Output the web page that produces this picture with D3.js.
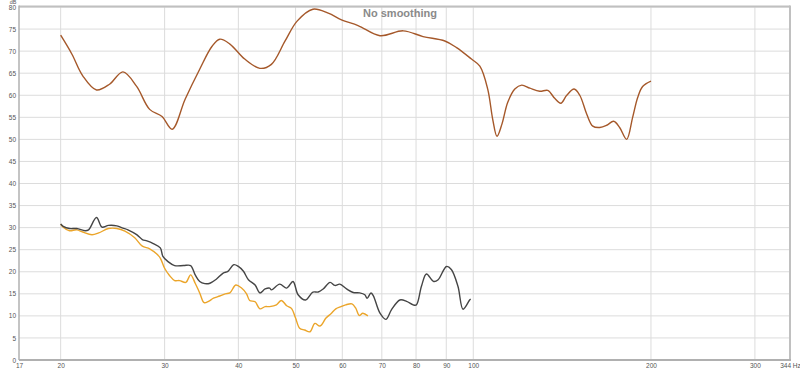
<!DOCTYPE html>
<html>
<head>
<meta charset="utf-8">
<script src="https://cdn.jsdelivr.net/npm/d3@7"></script>
<style>
  body { margin: 0; background: #fff; }
  text { font-family: "Liberation Sans", Arial, sans-serif; }
</style>
</head>
<body>
<div id="chart"></div>
<script>
// 圖表大小
const width = 800;
const height = 371;

// 座標軸刻度
const xTicks = [17, 20, 30, 40, 50, 60, 70, 80, 90, 100, 200, 300, 344];
const xGrid = [20, 30, 40, 50, 60, 70, 80, 90, 100, 200, 300];
const yTicks = [0, 5, 10, 15, 20, 25, 30, 35, 40, 45, 50, 55, 60, 65, 70, 75, 80];

// 棕色曲線 (頻率, dB)
const brownFreq = [20.0, 20.9, 21.8, 23.0, 24.2, 25.5, 26.9, 28.3, 29.7, 30.9, 32.5, 34.4, 36.1, 37.2, 38.7, 41.0, 43.5, 45.5, 48.0, 50.3, 53.5, 56.8, 59.8, 63.8, 69.5, 76.1, 82.2, 89.5, 93.7, 99.3, 102.6, 105.8, 107.9, 109.7, 111.8, 114.4, 117.6, 120.8, 124.7, 129.6, 133.7, 137.4, 140.7, 144.0, 148.2, 151.5, 155.7, 159.4, 163.8, 168.3, 172.9, 177.0, 181.9, 186.2, 189.9, 193.6, 200];
const brownDb = [73.6, 69.3, 64.4, 61.2, 62.5, 65.3, 62.0, 56.8, 55.2, 52.3, 59.1, 65.9, 71.1, 72.7, 71.6, 68.2, 66.1, 67.0, 72.3, 76.8, 79.5, 78.6, 77.1, 75.8, 73.5, 74.6, 73.3, 72.3, 70.8, 68.2, 66.6, 61.4, 54.5, 50.7, 53.4, 58.4, 61.4, 62.3, 61.6, 60.9, 61.1, 59.3, 58.2, 60.0, 61.4, 60.0, 55.7, 53.0, 52.7, 53.2, 54.1, 52.7, 50.0, 55.0, 59.5, 62.0, 63.2];

// 深灰色曲線
const greyFreq = [20.0, 20.2, 20.7, 21.3, 22.0, 22.3, 23.0, 23.5, 24.1, 24.9, 25.5, 26.0, 26.9, 27.5, 28.0, 28.7, 29.5, 29.8, 30.4, 31.2, 32.3, 33.2, 33.8, 34.4, 35.1, 35.8, 36.7, 37.7, 38.4, 39.3, 40.0, 40.8, 41.6, 42.7, 43.5, 44.4, 45.2, 45.5, 47.0, 48.3, 49.5, 50.5, 52.0, 53.5, 54.6, 55.7, 57.2, 58.3, 59.4, 61.0, 62.6, 64.2, 65.5, 66.1, 67.1, 67.7, 69.5, 71.1, 72.7, 75.1, 77.1, 79.1, 80.1, 81.7, 83.3, 85.7, 87.2, 90.1, 91.8, 94.2, 96.1, 98.6, 99.0];
const greyDb = [30.8, 30.3, 29.8, 29.8, 29.3, 29.5, 32.3, 30.1, 30.5, 30.4, 29.9, 29.5, 28.4, 27.3, 27.0, 26.4, 25.4, 23.5, 22.3, 21.4, 21.4, 21.4, 19.3, 17.8, 17.3, 17.4, 18.3, 19.7, 20.1, 21.6, 21.2, 20.1, 18.2, 17.0, 15.2, 16.1, 16.3, 15.9, 17.2, 16.3, 17.8, 14.8, 13.6, 15.4, 15.4, 16.1, 17.6, 16.9, 17.2, 16.1, 15.3, 15.2, 14.8, 14.0, 15.2, 14.6, 10.6, 9.2, 11.4, 13.6, 13.3, 12.5, 12.5, 16.7, 19.5, 17.8, 18.2, 21.2, 20.5, 16.7, 11.5, 13.6, 13.8];

// 橙色曲線
const orangeFreq = [20.0, 20.2, 20.7, 21.3, 21.8, 22.6, 23.2, 24.1, 24.9, 25.7, 26.7, 27.5, 28.3, 29.1, 29.5, 30.0, 30.6, 31.2, 31.8, 32.6, 33.2, 33.8, 34.4, 35.0, 35.6, 36.3, 37.2, 38.0, 38.7, 39.6, 40.5, 41.3, 41.8, 42.7, 43.5, 44.4, 45.2, 46.4, 47.3, 48.3, 49.2, 50.0, 50.8, 51.8, 52.9, 53.9, 55.0, 56.3, 57.4, 58.5, 59.7, 60.8, 62.3, 63.2, 64.1, 65.0, 66.3];
const orangeDb = [30.8, 30.1, 29.3, 29.5, 29.0, 28.4, 28.8, 29.8, 29.8, 29.2, 27.7, 25.8, 25.2, 24.0, 23.1, 20.8, 19.1, 18.0, 18.0, 17.6, 19.3, 17.4, 15.2, 13.0, 13.3, 14.0, 14.5, 15.0, 15.2, 17.0, 16.3, 15.0, 13.5, 13.2, 11.6, 12.1, 12.1, 12.5, 13.5, 12.3, 11.7, 9.5, 7.2, 6.8, 6.4, 8.3, 7.7, 9.5, 10.5, 11.6, 12.1, 12.5, 12.7, 11.8, 10.1, 10.6, 10.0];

// 繪圖區邊界
const plotLeft = 19, plotRight = 790, plotTop = 7, plotBottom = 360;

const svg = d3.select("#chart")
    .append("svg")
    .attr("width", width)
    .attr("height", height);

// 比例尺
const x = d3.scaleLog().domain([17, 344]).range([plotLeft, plotRight]);
const y = d3.scaleLinear().domain([0, 80]).range([plotBottom, plotTop]);

// 格線
svg.append("g")
    .selectAll("line")
    .data(yTicks)
    .join("line")
    .attr("x1", plotLeft).attr("x2", plotRight)
    .attr("y1", d => y(d)).attr("y2", d => y(d))
    .attr("stroke", "#dcdcdc")
    .attr("stroke-width", 1);

svg.append("g")
    .selectAll("line")
    .data(xGrid)
    .join("line")
    .attr("x1", d => x(d)).attr("x2", d => x(d))
    .attr("y1", plotTop).attr("y2", plotBottom)
    .attr("stroke", "#dcdcdc")
    .attr("stroke-width", 1);

// 外框
svg.append("line").attr("x1", plotLeft).attr("x2", plotRight).attr("y1", plotTop - 0.5).attr("y2", plotTop - 0.5)
    .attr("stroke", "#c0c0c0").attr("stroke-width", 2);
svg.append("line").attr("x1", plotRight).attr("x2", plotRight).attr("y1", plotTop - 1.5).attr("y2", plotBottom)
    .attr("stroke", "#c0c0c0").attr("stroke-width", 2);
svg.append("line").attr("x1", plotLeft).attr("x2", plotLeft).attr("y1", plotTop - 1.5).attr("y2", plotBottom)
    .attr("stroke", "#b0b0b0").attr("stroke-width", 1.5);
svg.append("line").attr("x1", plotLeft).attr("x2", plotRight + 1).attr("y1", plotBottom).attr("y2", plotBottom)
    .attr("stroke", "#b0b0b0").attr("stroke-width", 2);

// Y 軸標籤
const yAxis = d3.axisLeft(y).tickValues(yTicks).tickSize(0).tickPadding(3);
svg.append("g")
    .attr("transform", `translate(${plotLeft},0)`)
    .call(yAxis)
    .call(g => g.select(".domain").remove())
    .call(g => g.selectAll("text").attr("font-size", 6.5).attr("fill", "#555"));

svg.append("text")
    .attr("x", 13).attr("y", 4)
    .attr("font-size", 5.5).attr("fill", "#555")
    .attr("text-anchor", "middle")
    .text("dB");

// X 軸標籤
const xAxis = d3.axisBottom(x).tickValues(xTicks).tickSize(0).tickPadding(3)
    .tickFormat(d => d === 344 ? "344 Hz" : d);
svg.append("g")
    .attr("transform", `translate(0,${plotBottom})`)
    .call(xAxis)
    .call(g => g.select(".domain").remove())
    .call(g => g.selectAll("text").attr("font-size", 6.5).attr("fill", "#555"));

// 曲線
const line = d3.line()
    .x(d => x(d[0]))
    .y(d => y(d[1]))
    .curve(d3.curveCatmullRom.alpha(0.5));

const series = [
    { f: brownFreq, v: brownDb, color: "#a5582a" },
    { f: orangeFreq, v: orangeDb, color: "#eba52a" },
    { f: greyFreq, v: greyDb, color: "#454545" }
];

series.forEach(s => {
    svg.append("path")
        .datum(d3.zip(s.f, s.v))
        .attr("d", line)
        .attr("fill", "none")
        .attr("stroke", s.color)
        .attr("stroke-width", 1.4);
});

// 標題
svg.append("text")
    .attr("x", 400).attr("y", 17)
    .attr("text-anchor", "middle")
    .attr("font-size", 11)
    .attr("font-weight", "bold")
    .attr("fill", "#8a8a8a")
    .text("No smoothing");
</script>
</body>
</html>
